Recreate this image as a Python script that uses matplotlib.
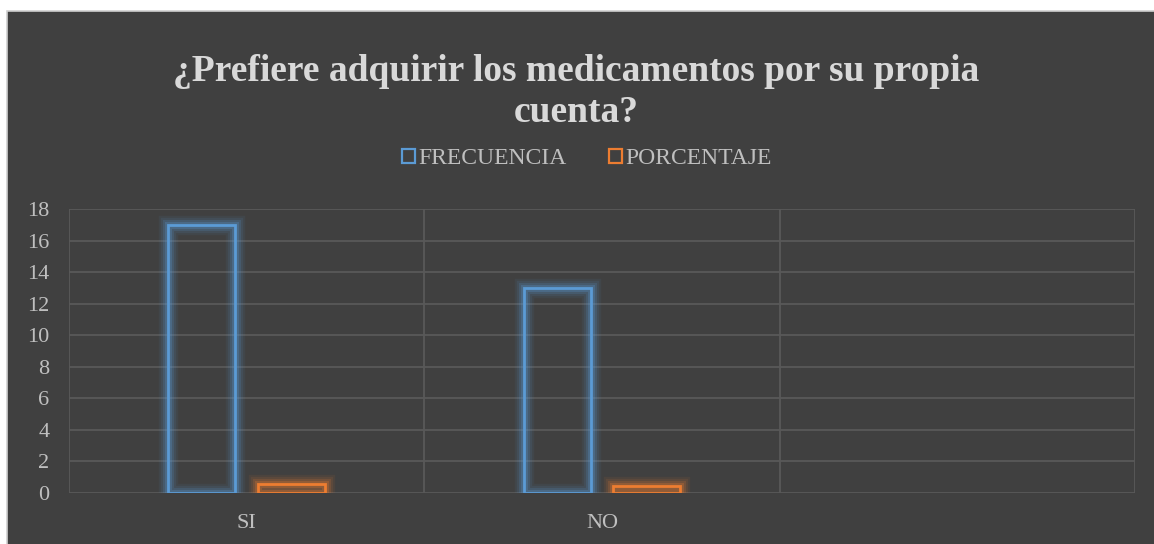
import matplotlib
matplotlib.use("Agg")
import matplotlib.pyplot as plt
import numpy as np
from matplotlib.patches import Rectangle, Patch
import matplotlib.patheffects as pe

categories = ["SI", "NO", ""]
series_names = ["FRECUENCIA", "PORCENTAJE"]
frecuencia = [17, 13, np.nan]
porcentaje = [0.57, 0.43, np.nan]
yticks = [0, 2, 4, 6, 8, 10, 12, 14, 16, 18]

BG = "#404040"
GRID = "#595959"
TXT = "#bfbfbf"
BLUE = "#5b9bd5"
ORANGE = "#ed7d31"

W, H = 1154, 544
fig = plt.figure(figsize=(W/100, H/100), dpi=100, facecolor="white")
fig.patches.append(Rectangle((7/W, -0.01), 1.0, (544-11)/H + 0.01, transform=fig.transFigure,
                             facecolor=BG, edgecolor="#d0d0d0", linewidth=1.2, zorder=-10))

ax = fig.add_axes([69/W, (544-493)/H, (1135-69)/W, (493-209)/H])
ax.set_zorder(1)
ax.patch.set_alpha(0)

x = np.arange(len(categories))
bw = 0.189
off = 0.126

def glow(color):
    return [pe.Stroke(linewidth=14, foreground=color, alpha=0.07),
            pe.Stroke(linewidth=11, foreground=color, alpha=0.10),
            pe.Stroke(linewidth=8, foreground=color, alpha=0.16),
            pe.Stroke(linewidth=5, foreground=color, alpha=0.25),
            pe.Normal()]

b1 = ax.bar(x - off, frecuencia, width=bw, facecolor="none", edgecolor=BLUE, linewidth=2.0, zorder=3)
b2 = ax.bar(x + off, porcentaje, width=bw, facecolor="none", edgecolor=ORANGE, linewidth=2.0, zorder=3)
for b in list(b1) + list(b2):
    b.set_path_effects(glow(b.get_edgecolor()))

ax.set_xlim(-0.5, len(categories) - 0.5)
ax.set_ylim(0, 18)
ax.set_yticks(yticks)
ax.set_yticklabels([str(v) for v in yticks])
ax.set_xticks(x)
ax.set_xticklabels(categories)
ax.set_xticks(np.arange(len(categories) + 1) - 0.5, minor=True)
ax.grid(axis="y", which="major", color=GRID, linewidth=1.3, zorder=0)
ax.grid(axis="x", which="minor", color=GRID, linewidth=1.3, zorder=0)
ax.tick_params(axis="both", which="both", length=0, colors=TXT, labelsize=16)
ax.tick_params(axis="y", pad=14)
ax.tick_params(axis="x", pad=15)
for lab in ax.get_xticklabels() + ax.get_yticklabels():
    lab.set_family("Liberation Serif")
    lab.set_color(TXT)
for s in ax.spines.values():
    s.set_visible(False)

fig.text(576/W, 1 - 92/H, "¿Prefiere adquirir los medicamentos por su propia\ncuenta?",
         ha="center", va="center", fontsize=27, fontweight="bold", family="Liberation Serif",
         color="#d9d9d9", linespacing=1.2)

handles = [Patch(facecolor="none", edgecolor=BLUE, linewidth=1.6),
           Patch(facecolor="none", edgecolor=ORANGE, linewidth=1.6)]
leg = fig.legend(handles, series_names, loc="center", bbox_to_anchor=(587/W, 1 - 159/H),
                 ncol=2, frameon=False, prop={"family": "Liberation Serif", "size": 17},
                 handlelength=0.55, handleheight=0.55, handletextpad=0.15, columnspacing=1.8,
                 labelcolor=TXT)

fig.savefig("out.png", dpi=100, facecolor="white")
